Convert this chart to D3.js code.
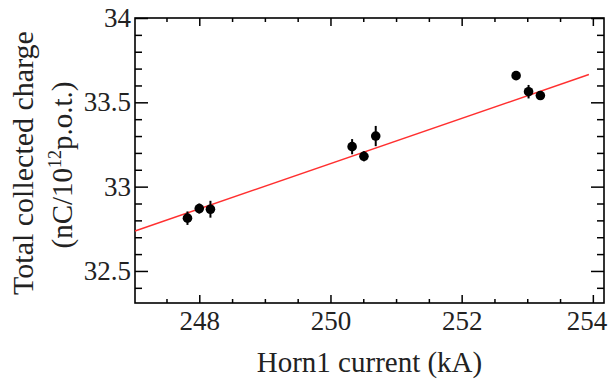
<!DOCTYPE html>
<html><head><meta charset="utf-8">
<script src="https://cdn.jsdelivr.net/npm/d3@7"></script>
<style>
body{margin:0;background:#fff;}
svg{display:block;font-family:"Liberation Serif","Times New Roman",serif;}
</style></head>
<body><svg id="chart" width="609" height="380"></svg>
<script>
const current = [247.82, 248.0, 248.17, 250.33, 250.51, 250.69, 252.83, 253.02, 253.2];
const charge  = [32.813, 32.87, 32.866, 33.237, 33.18, 33.30, 33.658, 33.563, 33.54];
const chargeErr = [0.04, 0.03, 0.05, 0.045, 0.03, 0.06, 0.02, 0.04, 0.02];
const fitX = [247.02, 253.94];
const fitY = [32.737, 33.665];
const xMajor = [248, 250, 252, 254];
const xMinor = [247.5, 248.5, 249, 249.5, 250.5, 251, 251.5, 252.5, 253, 253.5];
const yMajor = [32.5, 33, 33.5, 34];
const yMinor = [32.4, 32.6, 32.7, 32.8, 32.9, 33.1, 33.2, 33.3, 33.4, 33.6, 33.7, 33.8, 33.9];
const xTitle = "Horn1 current (kA)";

const L = 135, R = 604, T = 18, B = 303;
const svg = d3.select("#chart");
const x = d3.scaleLinear().domain([247.02, 254.17]).range([L, R]);
const y = d3.scaleLinear().domain([32.31, 34]).range([B, T]);

function styleAxis(g){
  g.select(".domain").remove();
  g.selectAll("line").attr("stroke","#000").attr("stroke-width",1.5);
  g.selectAll("text").attr("fill","#222").style("font-size","27px").style("font-family",'"Liberation Serif",serif');
}
// bottom
const bx = svg.append("g").attr("transform",`translate(0,${B})`)
  .call(d3.axisBottom(x).tickValues(xMajor).tickSize(-8).tickPadding(8).tickFormat(d3.format("d"))).call(styleAxis);
// keep the last label inside the window
bx.selectAll("text").filter(d=>d===254).attr("text-anchor","end").attr("x",14);
svg.append("g").attr("transform",`translate(0,${B})`)
  .call(d3.axisBottom(x).tickValues(xMinor).tickSize(-4).tickFormat("")).call(styleAxis);
// top
svg.append("g").attr("transform",`translate(0,${T})`)
  .call(d3.axisTop(x).tickValues(xMajor).tickSize(-8).tickFormat("")).call(styleAxis);
svg.append("g").attr("transform",`translate(0,${T})`)
  .call(d3.axisTop(x).tickValues(xMinor).tickSize(-4).tickFormat("")).call(styleAxis);
// left
svg.append("g").attr("transform",`translate(${L},0)`)
  .call(d3.axisLeft(y).tickValues(yMajor).tickSize(-13).tickPadding(4).tickFormat(d3.format("~g"))).call(styleAxis);
svg.append("g").attr("transform",`translate(${L},0)`)
  .call(d3.axisLeft(y).tickValues(yMinor).tickSize(-7).tickFormat("")).call(styleAxis);
// right
svg.append("g").attr("transform",`translate(${R},0)`)
  .call(d3.axisRight(y).tickValues(yMajor).tickSize(-13).tickFormat("")).call(styleAxis);
svg.append("g").attr("transform",`translate(${R},0)`)
  .call(d3.axisRight(y).tickValues(yMinor).tickSize(-7).tickFormat("")).call(styleAxis);

// frame
svg.append("rect").attr("x",L).attr("y",T).attr("width",R-L).attr("height",B-T)
  .attr("fill","none").attr("stroke","#000").attr("stroke-width",1.6);

// fit line
svg.append("line").attr("x1",x(fitX[0])).attr("y1",y(fitY[0])).attr("x2",x(fitX[1])).attr("y2",y(fitY[1]))
  .attr("stroke","#ff3030").attr("stroke-width",1.4);

// error bars
svg.append("g").selectAll("line").data(current).join("line")
  .attr("x1",d=>x(d)).attr("x2",d=>x(d))
  .attr("y1",(d,i)=>y(charge[i]-chargeErr[i])).attr("y2",(d,i)=>y(charge[i]+chargeErr[i]))
  .attr("stroke","#000").attr("stroke-width",2);
// points
svg.append("g").selectAll("circle").data(current).join("circle")
  .attr("cx",d=>x(d)).attr("cy",(d,i)=>y(charge[i])).attr("r",4.8).attr("fill","#000");

// x title
svg.append("text").attr("x",(L+R)/2).attr("y",372).attr("text-anchor","middle")
  .attr("fill","#222").style("font-size","29px").text(xTitle);
// y title
svg.append("text").attr("transform","translate(33,163) rotate(-90)").attr("text-anchor","middle")
  .attr("fill","#222").style("font-size","30px").text("Total collected charge");
const yt2 = svg.append("text").attr("transform","translate(72,165) rotate(-90)").attr("text-anchor","middle")
  .attr("fill","#222").style("font-size","29px");
yt2.append("tspan").text("(nC/10");
yt2.append("tspan").attr("dy",-11).style("font-size","18px").text("12");
yt2.append("tspan").attr("dy",11).text("p.o.t.)");
</script></body></html>
